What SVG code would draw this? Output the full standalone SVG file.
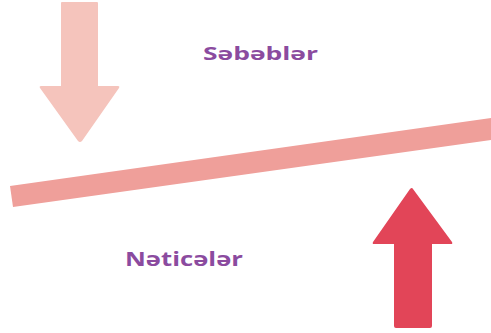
<svg xmlns="http://www.w3.org/2000/svg" width="491" height="333" viewBox="0 0 491 333">
<style>
.lbl{font-family:"Open Sans","Noto Sans",sans-serif;font-weight:700;fill:#8B4B9F}
</style>
<rect width="491" height="333" fill="#fff"/>
<g id="bar"><polygon points="10,186 491,118 491,140 13,207" fill="#EF9F9A"/></g>
<g id="arrow-down"><path d="M62,2 H97 Q98,2 98,3 V86 H118 Q120,86 119,88 L82,141 Q80,143 78,141 L40,88 Q39,86 41,86 H61 V3 Q61,2 62,2 Z" fill="#F5C4BC"/></g>
<g id="arrow-up"><path d="M396,328 H430 Q432,328 432,326 V244 H451 Q453,244 452,242 L413,189 Q412,187 410,189 L373,242 Q372,244 374,244 H394 V326 Q394,328 396,328 Z" fill="#E24558"/></g>
<g id="label-sebebler"><text class="lbl" x="203" y="60" font-size="18.5" textLength="115" lengthAdjust="spacingAndGlyphs">Səbəblər</text></g>
<g id="label-neticeler"><text class="lbl" x="125" y="266" font-size="19.5" textLength="118" lengthAdjust="spacingAndGlyphs">Nəticələr</text></g>
</svg>
